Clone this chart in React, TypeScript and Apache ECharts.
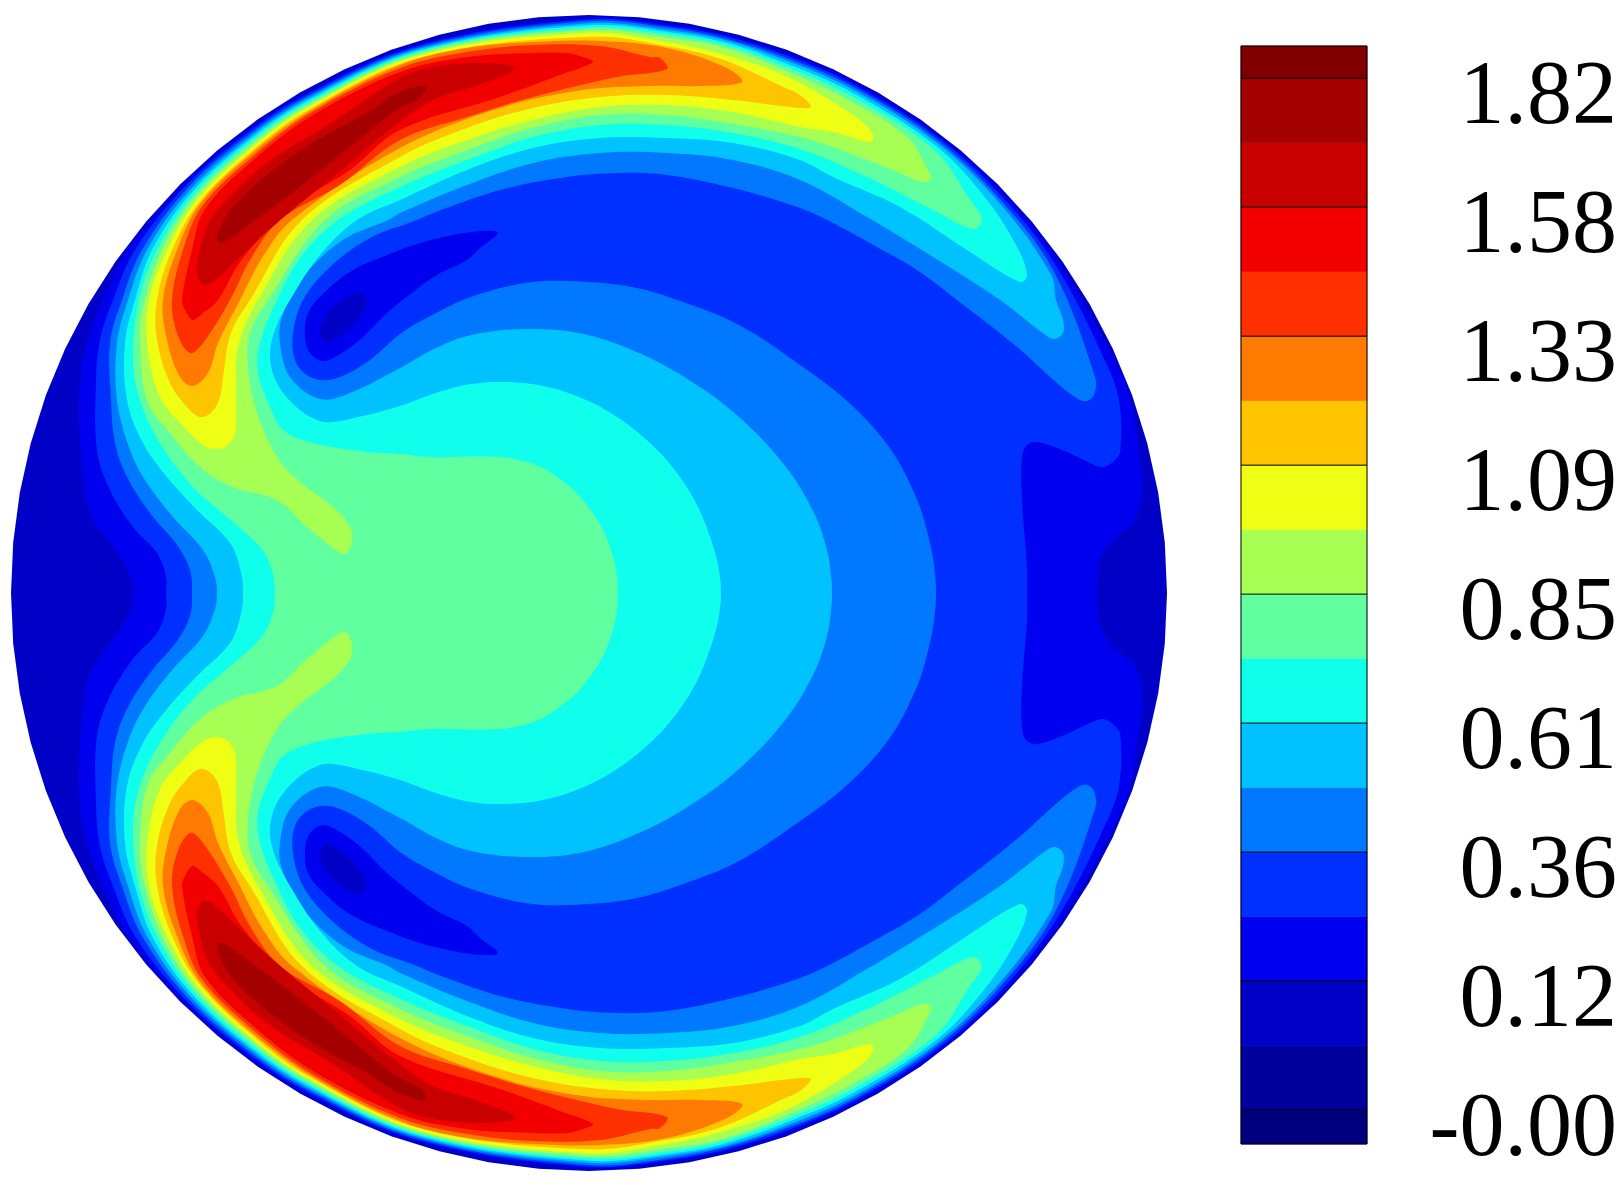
import React, { useEffect, useRef } from "react";
import * as echarts from "echarts";

type P = [number, number];

const centre: P = [589, 593];
const radius = 578;

const levelColors = ["#00007f", "#00009c", "#0000c6", "#0000f0", "#0030ff", "#0078ff", "#00c2ff", "#10ffec", "#60ffa0", "#a8ff54", "#eeff14", "#ffc400", "#ff7a00", "#ff3000", "#f20000", "#c90000", "#a50000", "#800000"];
const bandEdges = [-0.527, 0, 1, 2, 3, 4, 5, 6, 7, 8, 9, 10, 11, 12, 13, 14, 15, 16, 16.5];
const tickLevels = [0, 2, 4, 6, 8, 10, 12, 14, 16];
const tickLabels = ["-0.00", "0.12", "0.36", "0.61", "0.85", "1.09", "1.33", "1.58", "1.82"];

// Wall-hugging part of each contour: inward distance from the wall at these angles
const rimAngles = [45, 52.5, 60, 72.7, 90, 98, 104, 111, 118, 128, 137, 145.5, 157, 160.5, 165];
const rim3 = [2.7, 2.8, 3, 3.2, 2.7, 3.5, 3.2, 3, 2.6, 2, 2.6, 3.5, 3, 3.3, 9.6];
const rim4 = [5, 5, 5, 4.8, 4.3, 5.5, 4.8, 5.3, 4.8, 4, 5.6, 8, 12, 15, 28];
const rim5 = [8, 7.4, 7, 6.4, 6, 7, 7, 7.5, 7, 6.5, 9, 13, 28];
const rim6 = [11, 9.8, 9, 8, 8.3, 9.5, 8.5, 10, 9.5, 9, 12, 17];
const rim7 = [14, 12, 11, 9.5, 10.3, 11.5, 11, 13, 12.5, 12];
const rim8 = [17, 14.5, 13, 11, 12.7, 14, 13.5, 16, 16, 16];
const rim9 = [20, 17, 15, 12.7, 15, 17, 16, 20];
const rim10 = [23, 19.5, 17, 14.3, 17.7, 21.5, 23, 25];
const rim11 = [26, 22, 19, 16.5, 21.7, 25.5, 28, 36];
const rim12 = [28, 24, 21];
const rim13 = [31, 27, 23];
const rim14 = [35, 30, 26];

// Contours: upper half of the disk (the field mirrors about the horizontal axis)
const left3: P[] = [[134, 593], [128, 570], [110, 543], [90, 513], [82, 467], [79, 400], [83, 360], [92, 327], [103, 300], [128, 250]];
const inner3: P[] = [[1142, 490], [1135, 520], [1113, 540], [1100, 560], [1097, 593]];
const left4: P[] = [[166, 593], [166, 577], [157, 553], [133, 527], [110, 490], [97, 450], [96, 383], [100, 340], [113, 300], [135, 250]];
const inner4: P[] = [[1115, 460], [1103, 467], [1090, 463], [1067, 452], [1038, 442], [1027, 445], [1022, 457], [1022, 500], [1027, 567], [1027, 593]];
const left5: P[] = [[192, 593], [190, 570], [177, 545], [150, 513], [127, 477], [115, 443], [111, 400], [110, 343], [122, 300], [142, 250]];
const inner5: P[] = [[1094, 395], [1087, 401], [1078, 399], [1057, 383], [1017, 347], [957, 300], [917, 270], [877, 247], [833, 223], [800, 208], [733, 188], [667, 175], [617, 173], [567, 177], [500, 190], [433, 213], [417, 220], [370, 238], [330, 267], [303, 300], [293, 333], [294, 357], [303, 372], [320, 380], [340, 377], [370, 360], [400, 334], [436, 313], [471, 297], [525, 283], [568, 281], [632, 287], [686, 303], [739, 325], [793, 360], [846, 400], [889, 447], [916, 497], [928, 535], [934, 565], [936, 593]];
const left6: P[] = [[217, 593], [215, 577], [203, 550], [173, 517], [147, 483], [130, 450], [117, 400], [117, 343], [128, 300], [147, 250]];
const inner6: P[] = [[1056, 300], [1063, 320], [1063, 333], [1055, 339], [1047, 336], [1000, 300], [933, 257], [867, 217], [800, 180], [733, 160], [667, 153], [600, 153], [533, 163], [467, 185], [400, 213], [388, 220], [343, 240], [303, 277], [282, 317], [280, 343], [290, 377], [320, 399], [350, 393], [400, 368], [436, 348], [471, 335], [525, 329], [579, 333], [632, 350], [686, 378], [739, 417], [786, 467], [814, 513], [827, 550], [831, 575], [832, 593]];
const left7: P[] = [[243, 593], [241, 572], [230, 543], [197, 510], [167, 477], [143, 443], [127, 400], [125, 343], [135, 300], [152, 250]];
const inner7: P[] = [[987, 200], [1017, 247], [1027, 275], [1020, 282], [967, 250], [900, 207], [833, 177], [800, 160], [733, 143], [667, 138], [600, 138], [533, 148], [467, 170], [400, 200], [357, 220], [320, 255], [290, 300], [275, 330], [270, 357], [278, 385], [300, 410], [320, 421], [333, 422], [367, 415], [400, 406], [436, 393], [471, 384], [507, 382], [543, 386], [579, 397], [614, 415], [650, 443], [677, 473], [697, 505], [710, 537], [718, 565], [721, 593]];
const left8: P[] = [[275, 593], [272, 570], [260, 547], [227, 517], [193, 487], [160, 443], [140, 400], [133, 357], [139, 300], [157, 250]];
const inner8: P[] = [[970, 200], [982, 220], [973, 229], [933, 210], [867, 177], [800, 149], [733, 133], [667, 125], [600, 125], [533, 137], [467, 160], [400, 187], [338, 220], [300, 258], [277, 300], [260, 343], [258, 373], [270, 407], [283, 430], [313, 443], [367, 452], [400, 454], [430, 457], [500, 457], [536, 465], [561, 480], [582, 499], [603, 530], [614, 560], [617, 578], [618, 593]];
const left9: P[] = [[345, 554], [333, 548], [307, 527], [277, 500], [233, 487], [200, 467], [170, 433], [147, 400], [140, 333], [145, 300], [162, 250]];
const inner9: P[] = [[850, 101], [907, 137], [928, 170], [931, 179], [923, 182], [893, 170], [833, 147], [800, 137], [733, 124], [667, 115], [600, 115], [533, 128], [467, 150], [400, 177], [325, 220], [268, 300], [250, 333], [248, 367], [257, 413], [277, 457], [300, 482], [333, 507], [350, 527], [352, 542]];
const left10: P[] = [[225, 447], [207, 447], [180, 423], [160, 397], [148, 350], [149, 300], [167, 250]];
const inner10: P[] = [[853, 115], [872, 133], [871, 142], [833, 132], [800, 127], [733, 112], [667, 105], [600, 107], [533, 120], [467, 140], [400, 167], [312, 220], [258, 300], [238, 347], [236, 393], [235, 433]];
const left11: P[] = [[200, 417], [187, 407], [170, 383], [157, 340], [157, 300], [172, 250]];
const inner11: P[] = [[800, 95], [811, 107], [800, 108], [733, 100], [667, 95], [600, 97], [533, 108], [467, 128], [400, 157], [302, 220], [250, 300], [231, 333], [223, 377], [220, 397], [212, 412]];
const left12: P[] = [[193, 386], [180, 377], [167, 340], [163, 300], [177, 250]];
const inner12: P[] = [[400, 65], [467, 48], [533, 42], [600, 41], [667, 48], [727, 68], [742, 82], [700, 86], [650, 86], [583, 90], [500, 108], [400, 148], [292, 220], [262, 258], [240, 300], [218, 343], [208, 373]];
const left13: P[] = [[190, 353], [177, 333], [172, 300], [183, 250]];
const inner13: P[] = [[400, 68], [467, 52], [533, 45], [600, 46], [650, 57], [660, 58], [667, 69], [617, 77], [533, 97], [467, 117], [400, 140], [340, 185], [280, 220], [250, 260], [230, 300], [203, 343]];
const left14: P[] = [[193, 320], [185, 310], [182, 300], [192, 250]];
const inner14: P[] = [[400, 72], [467, 57], [533, 53], [567, 53], [583, 57], [593, 62], [560, 75], [500, 97], [400, 130], [350, 170], [310, 195], [275, 222], [240, 262], [218, 300], [203, 313]];
const blob15: P[] = [[203, 285], [197, 273], [197, 265], [207, 227], [227, 200], [267, 163], [333, 122], [400, 78], [433, 67], [483, 63], [515, 68], [487, 82], [433, 100], [400, 122], [333, 177], [277, 223], [240, 257], [213, 282]];
const blob16: P[] = [[218, 242], [223, 243], [253, 222], [300, 187], [367, 133], [400, 108], [420, 98], [426, 86], [400, 92], [367, 113], [317, 140], [267, 175], [233, 207], [218, 233]];
const hole3: P[] = [[498, 233], [483, 231], [453, 235], [420, 243], [387, 255], [353, 270], [327, 290], [308, 313], [305, 337], [310, 353], [323, 361], [342, 353], [363, 337], [387, 313], [413, 292], [437, 275], [467, 260], [480, 248]];
const hole2: P[] = [[358, 292], [367, 301], [357, 320], [338, 337], [327, 342], [320, 332], [325, 317], [333, 307], [347, 297]];

const rim = (depths: number[]): P[] =>
  depths.map((d, i) => {
    const a = (rimAngles[i] * Math.PI) / 180;
    const r = radius - d;
    return [centre[0] - r * Math.cos(a), centre[1] - r * Math.sin(a)] as P;
  });
const flip = (pts: P[]): P[] => pts.map(([x, y]) => [x, 2 * centre[1] - y] as P);
// closes an upper-half curve with its mirror image
const crescent = (left: P[], depths: number[], inner: P[]): P[] => {
  const upper = [...left, ...rim(depths), ...inner];
  const lower = flip(upper.slice(1, -1)).reverse();
  return [...upper, ...lower];
};
const pair = (pts: P[]): P[][] => [pts, flip(pts)];

const FACETS = 72;
const diskOutline: P[] = Array.from({ length: FACETS }, (_, i) => {
  const a = (i / FACETS) * 2 * Math.PI;
  return [centre[0] - radius * Math.cos(a), centre[1] - radius * Math.sin(a)] as P;
});

const shapes: { level: number; pts: P[]; smooth: number }[] = [];
const add = (level: number, pts: P[], smooth = 0.36) => shapes.push({ level, pts, smooth });
add(2, diskOutline, 0);
add(3, crescent(left3, rim3, inner3));
add(4, crescent(left4, rim4, inner4));
pair(hole3).forEach((p) => add(3, p));
pair(hole2).forEach((p) => add(2, p));
add(5, crescent(left5, rim5, inner5));
add(6, crescent(left6, rim6, inner6));
add(7, crescent(left7, rim7, inner7));
add(8, crescent(left8, rim8, inner8));
pair([...left9, ...rim(rim9), ...inner9]).forEach((p) => add(9, p));
pair([...left10, ...rim(rim10), ...inner10]).forEach((p) => add(10, p));
pair([...left11, ...rim(rim11), ...inner11]).forEach((p) => add(11, p));
pair([...left12, ...rim(rim12), ...inner12]).forEach((p) => add(12, p));
pair([...left13, ...rim(rim13), ...inner13]).forEach((p) => add(13, p));
pair([...left14, ...rim(rim14), ...inner14]).forEach((p) => add(14, p));
pair(blob15).forEach((p) => add(15, p));
pair(blob16).forEach((p) => add(16, p));

export default function App() {
  const ref = useRef<HTMLDivElement>(null);
  useEffect(() => {
    document.body.style.margin = "0";
    const chart = echarts.init(ref.current!, undefined, { renderer: "svg" });
    chart.setOption({
      animation: false,
      backgroundColor: "#ffffff",
      grid: [
        { left: 11, top: 15, width: 1156, height: 1156 },
        { left: 1241, top: 46, width: 126, height: 1098 },
      ],
      xAxis: [
        { gridIndex: 0, type: "value", min: 11, max: 1167, show: false },
        { gridIndex: 1, type: "value", min: 0, max: 1, show: false },
      ],
      yAxis: [
        { gridIndex: 0, type: "value", min: 15, max: 1171, inverse: true, show: false },
        {
          gridIndex: 1,
          type: "value",
          position: "right",
          min: bandEdges[0],
          max: bandEdges[bandEdges.length - 1],
          splitLine: { show: false },
          axisLine: { show: false },
          axisTick: { show: false },
          axisLabel: {
            customValues: tickLevels,
            formatter: (v: number) => tickLabels[tickLevels.indexOf(v)],
            align: "right",
            margin: 250,
            fontFamily: "Liberation Serif",
            fontSize: 90,
            color: "#000",
            verticalAlign: "top",
            lineHeight: 28,
          },
        },
      ],
      series: [
        {
          type: "custom",
          xAxisIndex: 0,
          yAxisIndex: 0,
          silent: true,
          clip: false,
          data: shapes.map((s) => [s.pts[0][0], s.pts[0][1]]),
          renderItem: (params: any, api: any) => {
            const s = shapes[params.dataIndex];
            return {
              type: "polygon",
              shape: { points: s.pts.map((p) => api.coord(p)), smooth: s.smooth },
              style: { fill: levelColors[s.level] },
            };
          },
        },
        {
          type: "custom",
          xAxisIndex: 1,
          yAxisIndex: 1,
          silent: true,
          data: levelColors.map((_, i) => [0, bandEdges[i], 1, bandEdges[i + 1]]),
          renderItem: (params: any, api: any) => {
            const a = api.coord([api.value(0), api.value(3)]);
            const b = api.coord([api.value(2), api.value(1)]);
            return {
              type: "rect",
              shape: { x: a[0], y: a[1], width: b[0] - a[0], height: b[1] - a[1] },
              style: { fill: levelColors[params.dataIndex], stroke: levelColors[params.dataIndex], lineWidth: 0.6 },
            };
          },
        },
        {
          type: "custom",
          xAxisIndex: 1,
          yAxisIndex: 1,
          silent: true,
          z: 11,
          data: tickLevels.map((v) => [0, v, 1]),
          renderItem: (_: any, api: any) => {
            const a = api.coord([api.value(0), api.value(1)]);
            const b = api.coord([api.value(2), api.value(1)]);
            return {
              type: "line",
              shape: { x1: a[0], y1: a[1], x2: b[0], y2: b[1] },
              style: { stroke: "#000", lineWidth: 1 },
            };
          },
        },
        {
          type: "custom",
          xAxisIndex: 1,
          yAxisIndex: 1,
          silent: true,
          z: 12,
          data: [[0, bandEdges[0], 1, bandEdges[bandEdges.length - 1]]],
          renderItem: (_: any, api: any) => {
            const a = api.coord([api.value(0), api.value(3)]);
            const b = api.coord([api.value(2), api.value(1)]);
            return {
              type: "rect",
              shape: { x: a[0], y: a[1], width: b[0] - a[0], height: b[1] - a[1] },
              style: { fill: "none", stroke: "#000", lineWidth: 1 },
            };
          },
        },
      ],
    });
    return () => chart.dispose();
  }, []);
  return <div ref={ref} style={{ position: "fixed", left: 0, top: 0, width: 1620, height: 1185 }} />;
}
